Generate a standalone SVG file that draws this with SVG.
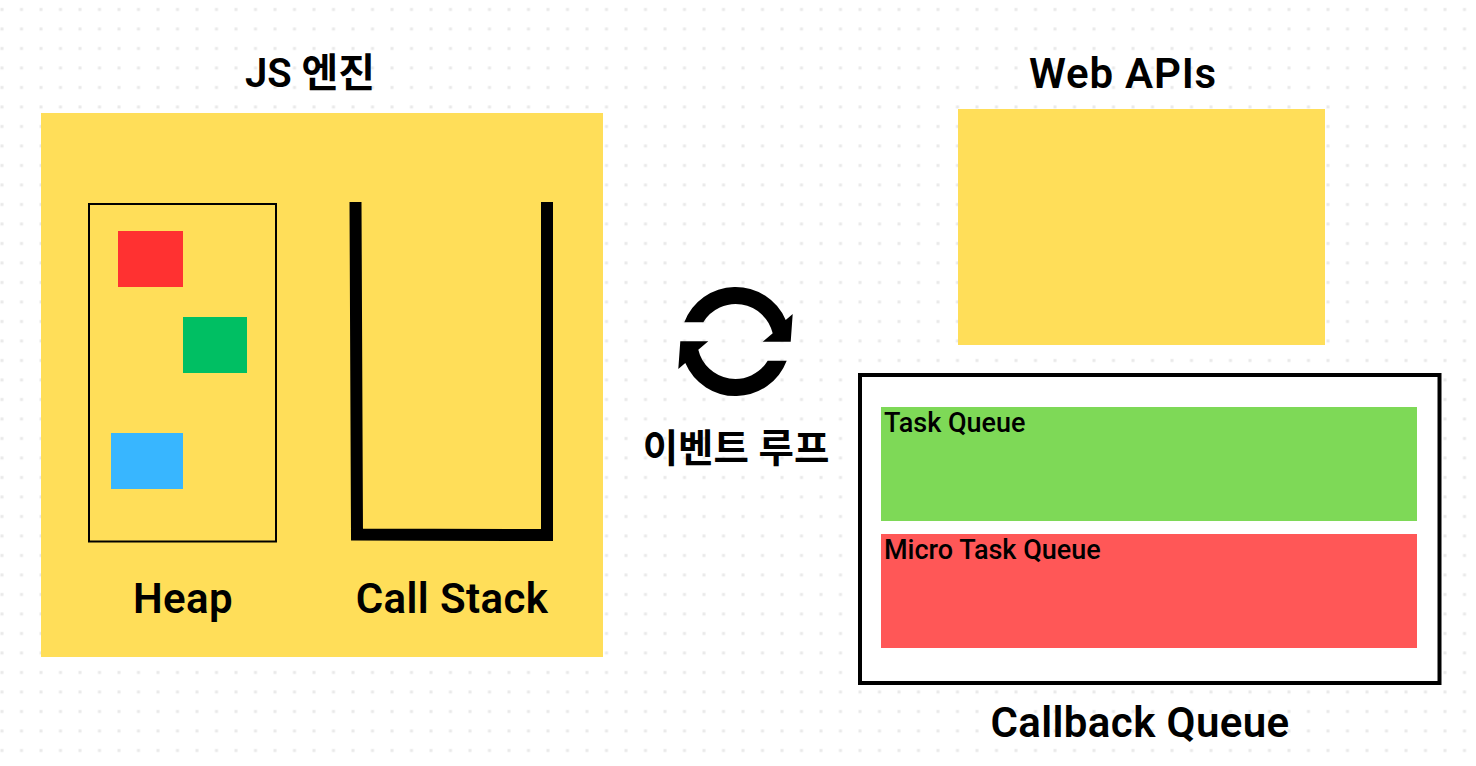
<svg xmlns="http://www.w3.org/2000/svg" width="1476" height="766" viewBox="0 0 1476 766">
<style>
text{font-family:Roboto,"Noto Sans CJK KR","Noto Sans",sans-serif;fill:#000;text-anchor:middle}
.h{font-size:42px;font-weight:600;letter-spacing:.4px}
.m{font-size:27px;font-weight:500;text-anchor:start}
.y{fill:#ffde59}
</style>
<defs>
<pattern id="dots" x="0" y="0" width="19.5" height="19.5" patternUnits="userSpaceOnUse">
<rect x="0.5" y="8" width="3" height="3" fill="#e9e9e9"/>
</pattern>
</defs>
<rect width="1476" height="766" fill="#fff"/>
<rect width="1476" height="766" fill="url(#dots)"/>
<g id="js-engine">
<rect class="y" x="41" y="113" width="562" height="544"/>
<text class="h" x="310" y="87" style="font-size:40px;letter-spacing:0">JS 엔진</text>
</g>
<g id="heap">
<rect x="89" y="204" width="187" height="337.500" fill="none" stroke="#000" stroke-width="2"/>
<rect x="118" y="231" width="65" height="56" fill="#ff3131"/>
<rect x="183" y="317" width="64" height="56" fill="#00bf63"/>
<rect x="111" y="433" width="72" height="56" fill="#38b6ff"/>
<text class="h" x="183" y="612.500">Heap</text>
</g>
<g id="call-stack">
<path d="M355.500 202L357 534.500L547 535V202" fill="none" stroke="#000" stroke-width="12"/>
<text class="h" x="452" y="612.500">Call Stack</text>
</g>
<g id="web-apis">
<rect class="y" x="958" y="109" width="367" height="236"/>
<text class="h" x="1123" y="88" style="letter-spacing:.8px">Web APIs</text>
</g>
<g id="event-loop">
<path d="M684.300 322.300A54.700 54.700 0 0 1 785.700 320L792.700 314L790.700 341.700H762.700L772.700 333.300A38 38 0 0 0 703.300 322.300Z"/>
<path d="M786.700 360.700A54.700 54.700 0 0 1 685.300 363L678.300 369L680.300 341.300H708.300L698.300 349.700A38 38 0 0 0 767.700 360.700Z"/>
<text x="736" y="462" style="font-size:38.500px;font-weight:700">이벤트 루프</text>
</g>
<g id="callback-queue">
<rect x="860" y="375" width="579.500" height="308" fill="#fff" stroke="#000" stroke-width="4"/>
<text class="h" x="1140" y="737">Callback Queue</text>
</g>
<g id="task-queue">
<rect x="881" y="407" width="536" height="114" fill="#7ed957"/>
<text class="m" x="884" y="431.500">Task Queue</text>
</g>
<g id="micro-task-queue">
<rect x="881" y="534" width="536" height="114" fill="#ff5757"/>
<text class="m" x="884" y="558.500">Micro Task Queue</text>
</g>
<g id="connectors"></g>
</svg>
